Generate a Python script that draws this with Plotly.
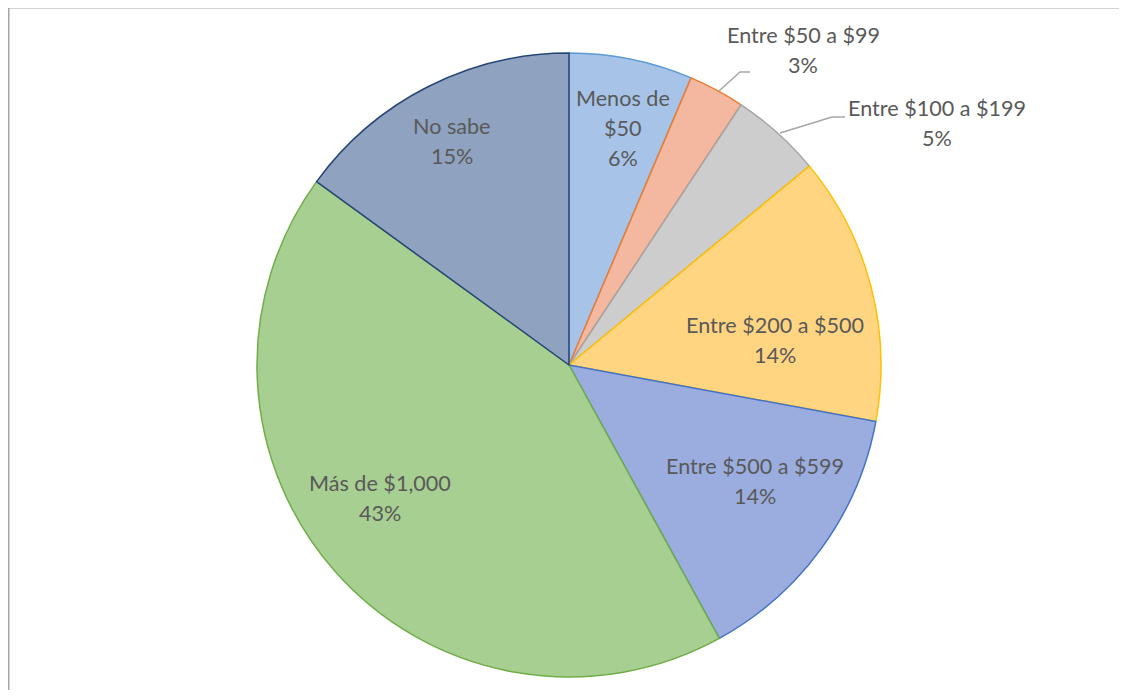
import plotly.graph_objects as go

# page body has an 8px margin; keep the figure inside the window (no scrollbars)
OFF = 8
W, H = 1111, 682

categories = ["Menos de<br>$50", "Entre $50 a $99", "Entre $100 a $199",
              "Entre $200 a $500", "Entre $500 a $599", "Más de $1,000", "No sabe"]
# slice shares
shares = [6.4, 2.9, 4.7, 13.9, 14.1, 43.0, 15.0]
# percentages as printed in the labels
pct_labels = [6, 3, 5, 14, 14, 43, 15]

fill_colors = ["#A7C4E8", "#F4B8A0", "#CDCDCD", "#FFD582", "#9AADDE", "#A8CF92", "#8FA2BF"]
line_colors = ["#5B9BD5", "#ED7D31", "#A5A5A5", "#FFC000", "#4472C4", "#70AD47", "#264478"]

# label block centres in window pixels
label_pos = [(623, 128), (803, 50), (937, 123), (775, 340), (755, 481), (380, 498), (452, 141)]
LINE_GAP = 30

cx, cy, r = 569, 365, 312


def px(x):
    return (x - OFF) / W


def py(y):
    return 1 - (y - OFF) / H


fig = go.Figure(go.Pie(
    labels=[c.replace("<br>", " ") for c in categories],
    values=shares,
    sort=False,
    direction="clockwise",
    rotation=0,
    textinfo="none",
    marker=dict(colors=fill_colors, line=dict(color=line_colors, width=1.5)),
    domain=dict(x=[px(cx - r), px(cx + r)], y=[py(cy + r), py(cy - r)]),
    showlegend=False,
))

annotations = []
for cat, val, (x, y) in zip(categories, pct_labels, label_pos):
    lines = cat.split("<br>") + [f"{val}%"]
    n = len(lines)
    for i, line in enumerate(lines):
        ly = y + (i - (n - 1) / 2) * LINE_GAP
        annotations.append(dict(
            x=px(x), y=py(ly), xref="paper", yref="paper",
            text=line, showarrow=False,
            xanchor="center", yanchor="middle", align="center",
            font=dict(family="Lato, Open Sans, sans-serif", size=21.6, color="#595959"),
        ))

# chart-area border: only the left and top edges are visible
border = [(8.75, 720), (8.75, 7.75), (1200, 7.75)]
shapes = [dict(type="path", xref="paper", yref="paper",
               path="M " + " L ".join(f"{px(x)},{py(y)}" for x, y in border),
               line=dict(color="#A6A6A6", width=1.5))]

# leader lines for small slices
leaders = [
    [(719, 91), (740, 72), (750, 72)],
    [(780, 133), (832, 117), (845, 117)],
]
for pts in leaders:
    path = "M " + " L ".join(f"{px(x)},{py(y)}" for x, y in pts)
    shapes.append(dict(type="path", xref="paper", yref="paper", path=path,
                       line=dict(color="#A6A6A6", width=1.5)))

fig.update_layout(
    width=W, height=H,
    margin=dict(l=0, r=0, t=0, b=0),
    paper_bgcolor="white", plot_bgcolor="white",
    annotations=annotations, shapes=shapes,
)

fig.write_html("out.html")
